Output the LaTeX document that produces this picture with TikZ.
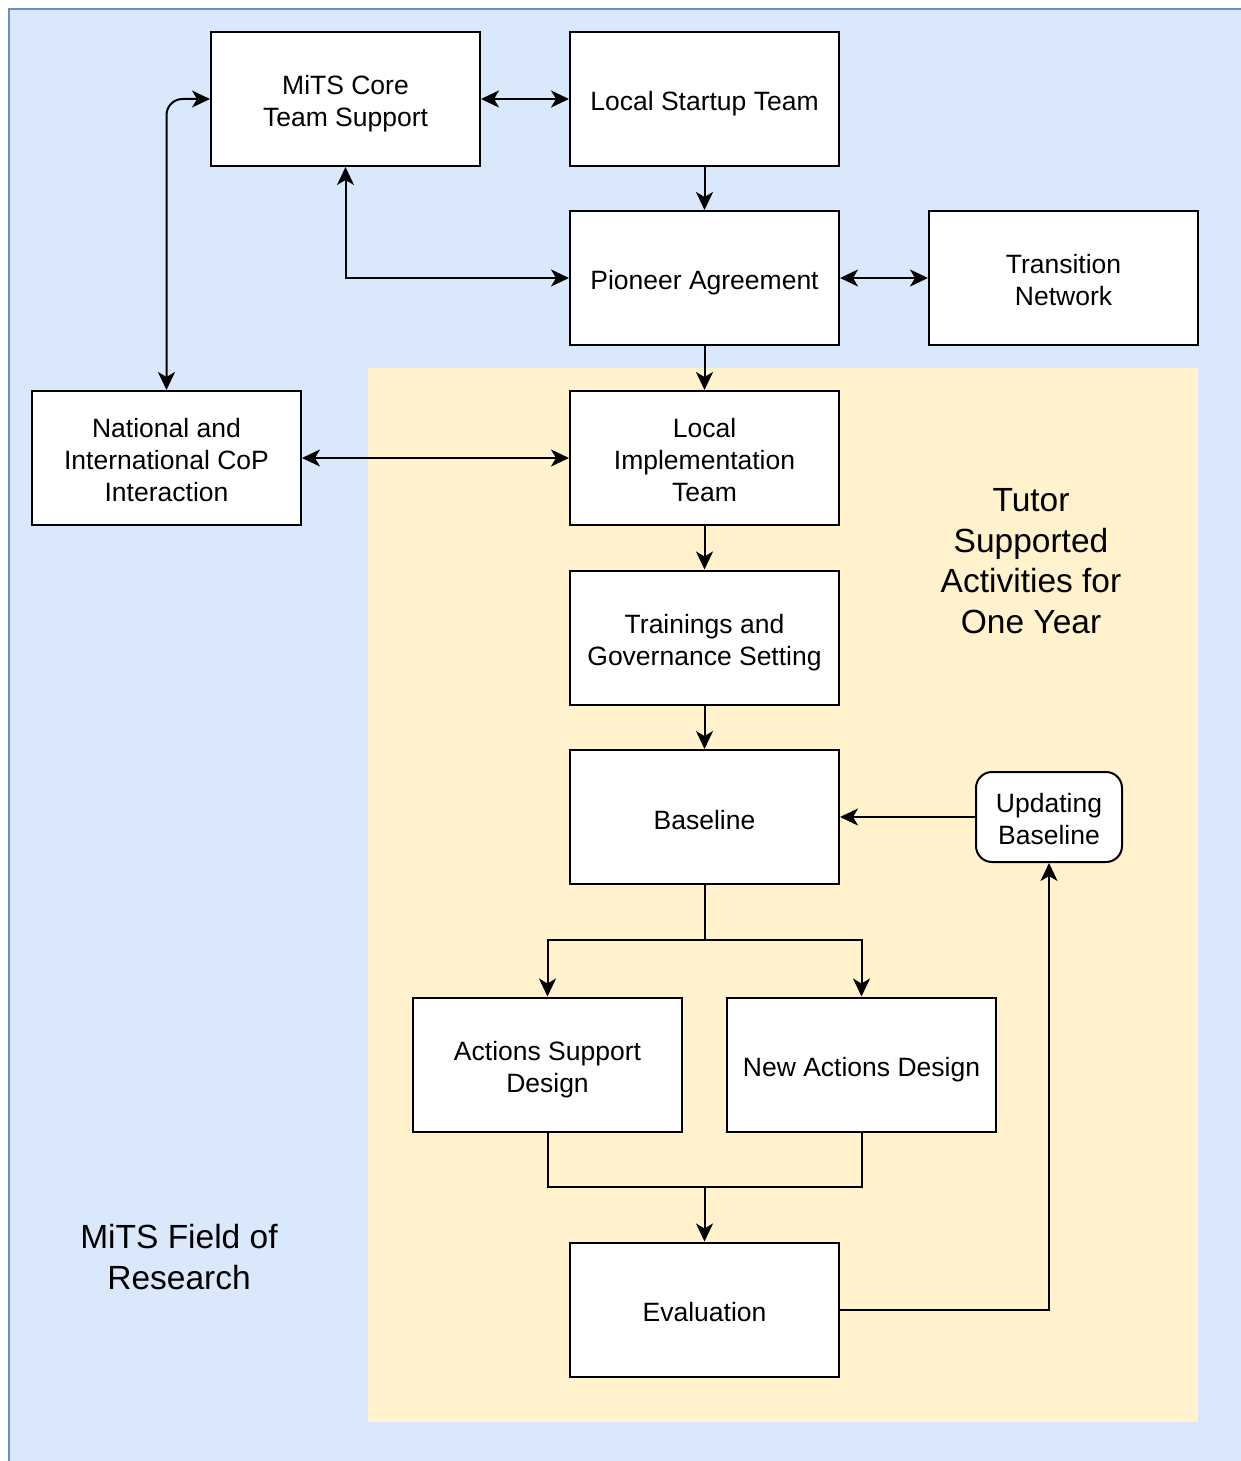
\documentclass[tikz,border=0pt]{standalone}
\usepackage{fontspec}
\setmainfont{Liberation Sans}
\usetikzlibrary{arrows.meta}
\definecolor{fieldfill}{HTML}{DAE8FC}
\definecolor{fieldline}{HTML}{6C8EBF}
\definecolor{tutorfill}{HTML}{FFF2CC}
\begin{document}
\begin{tikzpicture}[x=1pt,y=-1pt,
  box/.style={draw=black,fill=white,line width=2pt,minimum width=269pt,minimum height=134pt,inner sep=0pt},
  roundbox/.style={box,rounded corners=16pt,minimum width=146pt,minimum height=90pt},
  boxtext/.style={align=center,inner sep=0pt,font=\fontsize{26.5}{32}\selectfont},
  bigtext/.style={align=center,font=\fontsize{33.5}{40.5}\selectfont},
  link/.style={line width=2pt,draw=black},
  tip/.tip={Stealth[length=18pt,width=17pt,inset=5pt]},
  >=tip]
\useasboundingbox (0,0) rectangle (1241,1461);
% field of research and the tutored area
\draw[fill=fieldfill,draw=fieldline,line width=2pt] (9,9) rectangle (1260,1480);
\fill[tutorfill] (368,368) rectangle (1198,1422);

% boxes
\node[box] (core) at (345.5,99) {};
\node[box] (startup) at (704.5,99) {};
\node[box] (pioneer) at (704.5,278) {};
\node[box] (transition) at (1063.5,278) {};
\node[box] (cop) at (166.5,458) {};
\node[box] (impl) at (704.5,458) {};
\node[box] (train) at (704.5,637.5) {};
\node[box] (base) at (704.5,817) {};
\node[roundbox] (upd) at (1049,817) {};
\node[box] (asd) at (547.5,1064.5) {};
\node[box] (nad) at (861.5,1064.5) {};
\node[box] (eval) at (704.5,1309.5) {};

% box captions
\node[boxtext] (coret) at ([yshift=-5pt]core.center) {MiTS Core\\Team Support};
\node[boxtext] (startupt) at ([yshift=-5pt]startup.center) {Local Startup Team};
\node[boxtext] (pioneert) at ([yshift=-5pt]pioneer.center) {Pioneer Agreement};
\node[boxtext] (transitiont) at ([yshift=-2pt]transition.center) {Transition\\Network};
\node[boxtext] (copt) at ([yshift=-2pt]cop.center) {National and\\International CoP\\Interaction};
\node[boxtext] (implt) at ([yshift=-2pt]impl.center) {Local\\Implementation\\Team};
\node[boxtext] (traint) at ([yshift=-5pt]train.center) {Trainings and\\Governance Setting};
\node[boxtext] (baset) at ([yshift=-3pt]base.center) {Baseline};
\node[boxtext] (updt) at ([yshift=-2pt]upd.center) {Updating\\Baseline};
\node[boxtext] (asdt) at ([yshift=-5pt]asd.center) {Actions Support\\Design};
\node[boxtext] (nadt) at ([yshift=-5pt]nad.center) {New Actions Design};
\node[boxtext] (evalt) at ([yshift=-3pt]eval.center) {Evaluation};

% labels
\node[bigtext] (tutor) at (1031,561) {Tutor\\Supported\\Activities for\\One Year};
\node[bigtext] (field) at (179,1257) {MiTS Field of\\Research};

% junctions
\coordinate (split) at (704.5,940);
\coordinate (merge) at (704.5,1187);

% connectors
\draw[link,<->] (core) -- (startup);
\draw[link,->] (startup) -- (pioneer);
\draw[link,<->] (core.south) |- (pioneer.west);
\draw[link,<->] (pioneer) -- (transition);
\draw[link,<->,rounded corners=16pt] (core.west) -| (cop.north);
\draw[link,->] (pioneer) -- (impl);
\draw[link,<->] (cop) -- (impl);
\draw[link,->] (impl) -- (train);
\draw[link,->] (train) -- (base);
\draw[link,->] (upd) -- (base);
\draw[link] (base.south) -- (split);
\draw[link,->] (split) -| (asd.north);
\draw[link,->] (split) -| (nad.north);
\draw[link] (asd.south) |- (merge);
\draw[link] (nad.south) |- (merge);
\draw[link,->] (merge) -- (eval.north);
\draw[link,->] (eval.east) -| (upd.south);
\end{tikzpicture}
\end{document}
